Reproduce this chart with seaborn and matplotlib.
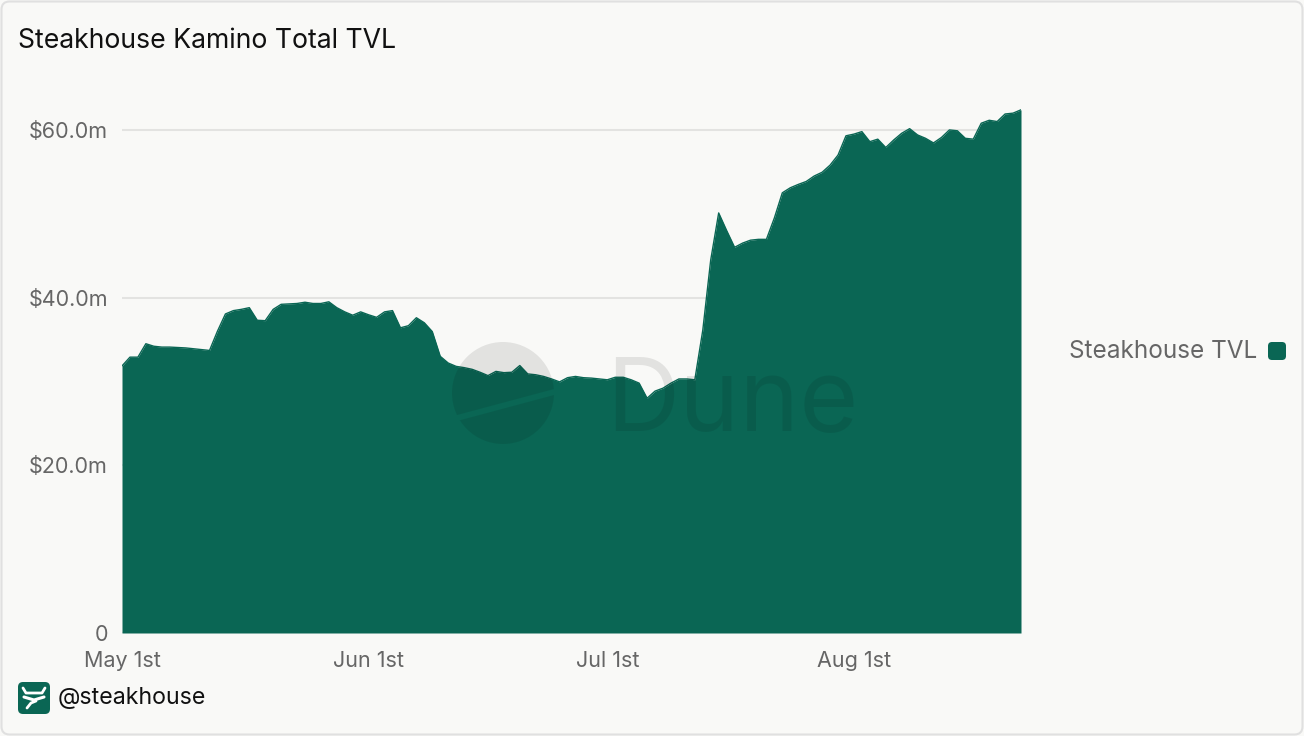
import numpy as np
import pandas as pd
import seaborn as sns
import matplotlib.pyplot as plt
from matplotlib.patches import FancyBboxPatch, Circle, Polygon

# daily TVL in $m (May 1st .. Aug 22nd)
tvl_m = [31.85, 32.9, 32.9, 34.5, 34.2, 34.1, 34.1, 34.05, 34.0, 33.9,
         33.8, 33.7, 36.0, 38.05, 38.45, 38.6, 38.8, 37.3, 37.25, 38.6,
         39.2, 39.25, 39.3, 39.45, 39.3, 39.3, 39.5, 38.8, 38.3, 37.9,
         38.3, 37.95, 37.65, 38.3, 38.45, 36.4, 36.65, 37.6, 37.0, 35.95,
         33.0, 32.2, 31.8, 31.65, 31.45, 31.1, 30.7, 31.2, 31.05, 31.1,
         31.9, 30.9, 30.8, 30.6, 30.3, 29.95, 30.45, 30.6, 30.45, 30.4,
         30.3, 30.2, 30.5, 30.5, 30.2, 29.8, 28.0, 28.85, 29.2, 29.8,
         30.3, 30.3, 30.2, 36.1, 44.5, 50.1, 48.0, 46.0, 46.5, 46.85,
         46.95, 46.95, 49.5, 52.5, 53.1, 53.5, 53.85, 54.5, 54.95, 55.8,
         57.0, 59.3, 59.5, 59.8, 58.6, 58.9, 57.9, 58.8, 59.6, 60.15,
         59.4, 59.0, 58.45, 59.1, 60.0, 59.9, 59.0, 58.9, 60.8, 61.15,
         61.0, 61.9, 62.0, 62.4]
dates = pd.date_range("2024-05-01", periods=len(tvl_m), freq="D")

tick_dates = pd.to_datetime(["2024-05-01", "2024-06-01", "2024-07-01", "2024-08-01"])
tick_labels = ["May 1st", "Jun 1st", "Jul 1st", "Aug 1st"]
y_ticks = [0, 20, 40, 60]
y_labels = ["0", "$20.0m", "$40.0m", "$60.0m"]

title = "Steakhouse Kamino Total TVL"
series_name = "Steakhouse TVL"
handle = "@steakhouse"

df = pd.DataFrame({"day": dates, "tvl": tvl_m})

bg = "#f9f9f7"
green = "#0a6654"
grey_txt = "#666666"

sns.set_theme(style="white")
plt.rcParams['font.family'] = ['Inter', 'DejaVu Sans']

W, H = 1304, 736
fig = plt.figure(figsize=(W / 100, H / 100), dpi=100, facecolor=bg)

# plot area in pixel coords: x 122..1021, y 88..633
ax = fig.add_axes([122 / W, 1 - 633 / H, (1021 - 122) / W, (633 - 88) / H])
ax.set_facecolor(bg)
sns.lineplot(data=df, x="day", y="tvl", ax=ax, color=green, linewidth=1)
ax.fill_between(df["day"], df["tvl"], 0, color=green, linewidth=0, zorder=3)
ax.set_xlim(dates[0], dates[-1])
ax.set_ylim(0, 65)
ax.set_yticks(y_ticks)
ax.set_yticklabels(y_labels)
ax.set_xticks(tick_dates)
ax.set_xticklabels(tick_labels)
ax.tick_params(axis="both", length=0, labelsize=15.5, labelcolor=grey_txt)
ax.tick_params(axis="y", pad=10)
ax.tick_params(axis="x", pad=13)
ax.set_xlabel("")
ax.set_ylabel("")
ax.grid(axis="y", color="#e3e3e1", linewidth=1.5)
ax.set_axisbelow(True)
for s in ax.spines.values():
    s.set_visible(False)

# overlay for decorations, in pixel coordinates
ov = fig.add_axes([0, 0, 1, 1], facecolor="none")
ov.set_xlim(0, W)
ov.set_ylim(H, 0)
ov.axis("off")

# border
ov.add_patch(FancyBboxPatch((1.5, 1.5), W - 3, H - 3, boxstyle="round,pad=0,rounding_size=8",
                            fill=False, edgecolor="#e0e0e0", linewidth=1.5))

ov.text(18, 41, title, fontsize=19.2, color="#111111", va="center", ha="left")

# legend
ov.text(1257, 352, series_name, fontsize=17.5, color=grey_txt, va="center", ha="right")
ov.add_patch(FancyBboxPatch((1268, 342), 18, 18, boxstyle="round,pad=0,rounding_size=4",
                            facecolor=green, edgecolor="none"))

# Dune watermark
cx, cy, r = 503, 393, 51
x0, y0, x1, y1 = 440, 436, 575, 373
d = 3
top_clip = Polygon([(x0 - 50, y0 - d - 200), (x1 + 50, y1 - d - 200), (x1 + 50, y1 - d), (x0 - 50, y0 - d)],
                   closed=True, transform=ov.transData)
bot_clip = Polygon([(x0 - 50, y0 + d), (x1 + 50, y1 + d), (x1 + 50, y1 + d + 200), (x0 - 50, y0 + d + 200)],
                   closed=True, transform=ov.transData)
for clip in (top_clip, bot_clip):
    c = Circle((cx, cy), r, facecolor="black", alpha=0.09, edgecolor="none", zorder=5)
    ov.add_patch(c)
    c.set_clip_path(clip)
ov.text(606, 430, "Dune", fontsize=73, color="black", alpha=0.09, va="baseline", ha="left", zorder=5)

# logo + handle
ov.add_patch(FancyBboxPatch((18, 682), 32, 32, boxstyle="round,pad=0,rounding_size=5",
                            facecolor=green, edgecolor="none"))
ov.plot([23, 26, 42, 45], [688, 693, 693, 688], color="white", linewidth=2, solid_capstyle="round")
ov.plot([24, 34, 44], [697, 700, 697], color="white", linewidth=2.2, solid_capstyle="round")
ov.plot([27, 31, 36], [708, 703, 701], color="white", linewidth=2, solid_capstyle="round")
ov.text(58, 698, handle, fontsize=16.7, color="#111111", va="center", ha="left")

fig.savefig("out.png", dpi=100, facecolor=bg)
